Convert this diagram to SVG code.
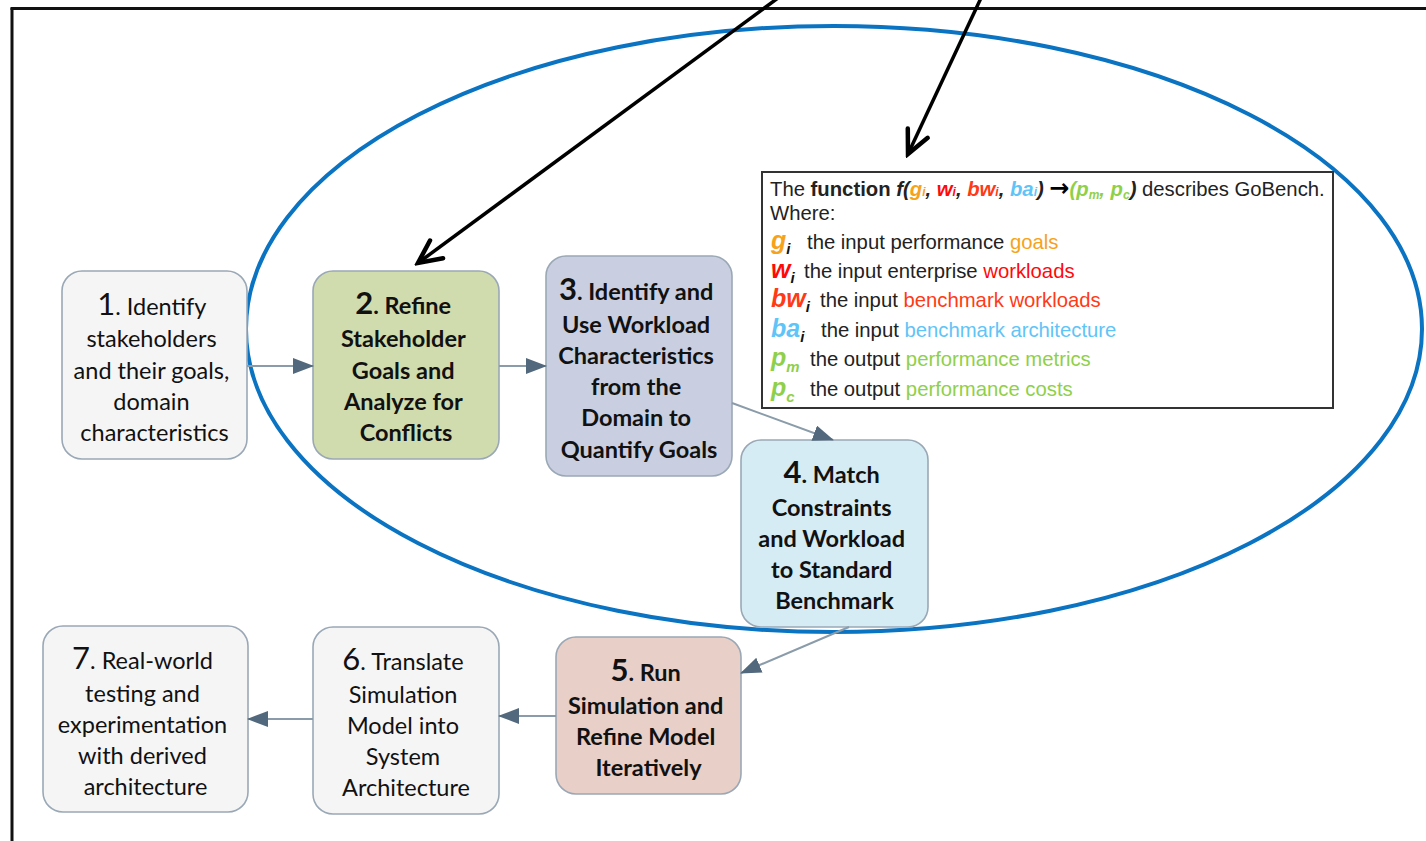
<svg xmlns="http://www.w3.org/2000/svg" width="1426" height="841" viewBox="0 0 1426 841">
  <defs>
    <marker id="tri" markerUnits="userSpaceOnUse" markerWidth="22" markerHeight="16" refX="20" refY="8" orient="auto">
      <path d="M0,0 L21,8 L0,16 Z" fill="#52687c"/>
    </marker>
    <marker id="vee" markerUnits="userSpaceOnUse" markerWidth="32" markerHeight="32" refX="28" refY="16" orient="auto">
      <path d="M5,5 L28,16 L5,27" fill="none" stroke="#000" stroke-width="4.5" stroke-linecap="round" stroke-linejoin="miter"/>
    </marker>
    <style>
      .box { stroke: #9aa8b6; stroke-width: 1.6; }
      .plain { fill: #f5f5f6; }
      .lbl { font-family: Lato, "Open Sans", sans-serif; font-size: 23.5px; fill: #111; text-anchor: middle; }
      .b { font-weight: bold; }
      .num { font-size: 31px; }
      .conn { stroke: #8a9caa; stroke-width: 2; fill: none; marker-end: url(#tri); }
      .info { font-family: "Liberation Sans", Arial, sans-serif; font-size: 20.3px; fill: #222; }
      .sym { font-size: 25px; font-weight: bold; font-style: italic; }
      .sub { font-size: 15px; font-weight: bold; font-style: italic; fill: #111; }
      .arw { font-family: "DejaVu Sans", sans-serif; font-style: normal; font-weight: bold; font-size: 24px; fill: #000; }
      .og { fill: #f7a21b; }
      .rd { fill: #ff0a0a; }
      .rb { fill: #ff3a17; }
      .bl { fill: #5fc4f8; }
      .gr { fill: #8fd04b; }
    </style>
  </defs>

  <rect width="1426" height="841" fill="#fff"/>

  <!-- outer frame (top and left edges) -->
  <g id="frame" stroke="#111" stroke-width="3" fill="none">
    <line x1="10.5" y1="8.5" x2="1426" y2="8.5"/>
    <line x1="12" y1="8" x2="12" y2="841"/>
  </g>

  <!-- boundary ellipse -->
  <ellipse id="scope" cx="834" cy="329" rx="588" ry="303" fill="none" stroke="#0a73c2" stroke-width="4"/>

  <!-- definition box -->
  <g id="definition">
    <rect x="762" y="172" width="571" height="236" fill="#fff" stroke="#333" stroke-width="2"/>
    <text class="info" x="770" y="196">The <tspan font-weight="bold">function</tspan> <tspan font-weight="bold" font-style="italic">f(<tspan class="og">g</tspan><tspan class="og" font-size="12">i</tspan>, <tspan class="rd">w</tspan><tspan class="rd" font-size="12">i</tspan>, <tspan class="rb">bw</tspan><tspan class="rb" font-size="12">i</tspan>, <tspan class="bl">ba</tspan><tspan class="bl" font-size="12">i</tspan>) <tspan class="arw">→</tspan><tspan class="gr">(p<tspan font-size="12" dy="3">m</tspan><tspan dy="-3">, p</tspan><tspan font-size="12" dy="3">c</tspan></tspan><tspan dy="-3">)</tspan></tspan> describes GoBench.</text>
    <text class="info" x="770" y="220">Where:</text>

    <text class="info" x="771" y="249"><tspan class="sym og">g</tspan><tspan class="sub" dy="5">i</tspan></text>
    <text class="info" x="807" y="249">the input performance <tspan class="og">goals</tspan></text>

    <text class="info" x="771" y="278"><tspan class="sym rd">w</tspan><tspan class="sub" dy="5">i</tspan></text>
    <text class="info" x="804" y="278">the input enterprise <tspan class="rd">workloads</tspan></text>

    <text class="info" x="771" y="307"><tspan class="sym rb">bw</tspan><tspan class="sub" dy="5">i</tspan></text>
    <text class="info" x="820" y="307">the input <tspan class="rb">benchmark workloads</tspan></text>

    <text class="info" x="771" y="337"><tspan class="sym bl">ba</tspan><tspan class="sub" dy="5">i</tspan></text>
    <text class="info" x="821" y="337">the input <tspan class="bl">benchmark architecture</tspan></text>

    <text class="info" x="771" y="366"><tspan class="sym gr">p</tspan><tspan class="sub gr" dy="6">m</tspan></text>
    <text class="info" x="810" y="366">the output <tspan class="gr">performance metrics</tspan></text>

    <text class="info" x="771" y="396"><tspan class="sym gr">p</tspan><tspan class="sub gr" dy="6">c</tspan></text>
    <text class="info" x="810" y="396">the output <tspan class="gr">performance costs</tspan></text>
  </g>

  <!-- process steps -->
  <g id="step1">
    <rect class="box plain" x="62" y="271" width="185" height="188" rx="20"/>
    <text class="lbl">
      <tspan x="154.5" y="315"><tspan class="num">1</tspan>. Identify</tspan>
      <tspan x="154.5" y="347">stakeholders</tspan>
      <tspan x="154.5" y="379">and their goals,</tspan>
      <tspan x="154.5" y="410">domain</tspan>
      <tspan x="154.5" y="441">characteristics</tspan>
    </text>
  </g>

  <g id="step2">
    <rect class="box" x="313" y="271" width="186" height="188" rx="20" fill="#d1dcae"/>
    <text class="lbl b">
      <tspan x="406" y="314"><tspan class="num">2</tspan>. Refine</tspan>
      <tspan x="406" y="347">Stakeholder</tspan>
      <tspan x="406" y="379">Goals and</tspan>
      <tspan x="406" y="410">Analyze for</tspan>
      <tspan x="406" y="441">Conflicts</tspan>
    </text>
  </g>

  <g id="step3">
    <rect class="box" x="546" y="256" width="186" height="220" rx="20" fill="#c9cfe0"/>
    <text class="lbl b">
      <tspan x="639" y="300"><tspan class="num">3</tspan>. Identify and</tspan>
      <tspan x="639" y="333">Use Workload</tspan>
      <tspan x="639" y="364">Characteristics</tspan>
      <tspan x="639" y="395">from the</tspan>
      <tspan x="639" y="426">Domain to</tspan>
      <tspan x="639" y="458">Quantify Goals</tspan>
    </text>
  </g>

  <g id="step4">
    <rect class="box" x="741" y="440" width="187" height="187" rx="20" fill="#d6ecf4"/>
    <text class="lbl b">
      <tspan x="834.5" y="483"><tspan class="num">4</tspan>. Match</tspan>
      <tspan x="834.5" y="516">Constraints</tspan>
      <tspan x="834.5" y="547">and Workload</tspan>
      <tspan x="834.5" y="578">to Standard</tspan>
      <tspan x="834.5" y="609">Benchmark</tspan>
    </text>
  </g>

  <g id="step5">
    <rect class="box" x="556" y="637" width="185" height="157" rx="20" fill="#e8cfc8"/>
    <text class="lbl b">
      <tspan x="648.5" y="681"><tspan class="num">5</tspan>. Run</tspan>
      <tspan x="648.5" y="714">Simulation and</tspan>
      <tspan x="648.5" y="745">Refine Model</tspan>
      <tspan x="648.5" y="776">Iteratively</tspan>
    </text>
  </g>

  <g id="step6">
    <rect class="box plain" x="313" y="627" width="186" height="187" rx="20"/>
    <text class="lbl">
      <tspan x="406" y="670"><tspan class="num">6</tspan>. Translate</tspan>
      <tspan x="406" y="703">Simulation</tspan>
      <tspan x="406" y="734">Model into</tspan>
      <tspan x="406" y="765">System</tspan>
      <tspan x="406" y="796">Architecture</tspan>
    </text>
  </g>

  <g id="step7">
    <rect class="box plain" x="43" y="626" width="205" height="186" rx="20"/>
    <text class="lbl">
      <tspan x="145.5" y="669"><tspan class="num">7</tspan>. Real-world</tspan>
      <tspan x="145.5" y="702">testing and</tspan>
      <tspan x="145.5" y="733">experimentation</tspan>
      <tspan x="145.5" y="764">with derived</tspan>
      <tspan x="145.5" y="795">architecture</tspan>
    </text>
  </g>

  <!-- flow connectors -->
  <g id="connectors">
    <line class="conn" x1="247" y1="366" x2="313" y2="366"/>
    <line class="conn" x1="499" y1="366" x2="546" y2="366"/>
    <line class="conn" x1="732" y1="403" x2="833" y2="440"/>
    <line class="conn" x1="849" y1="627" x2="741" y2="673"/>
    <line class="conn" x1="556" y1="716" x2="499" y2="716"/>
    <line class="conn" x1="313" y1="719" x2="248" y2="719"/>
  </g>

  <!-- callout arrows entering from above -->
  <g id="callouts" stroke="#000" stroke-width="3.5" fill="none">
    <line x1="778" y1="-2" x2="418" y2="263" marker-end="url(#vee)"/>
    <line x1="981" y1="-2" x2="908" y2="154" marker-end="url(#vee)"/>
  </g>
</svg>
